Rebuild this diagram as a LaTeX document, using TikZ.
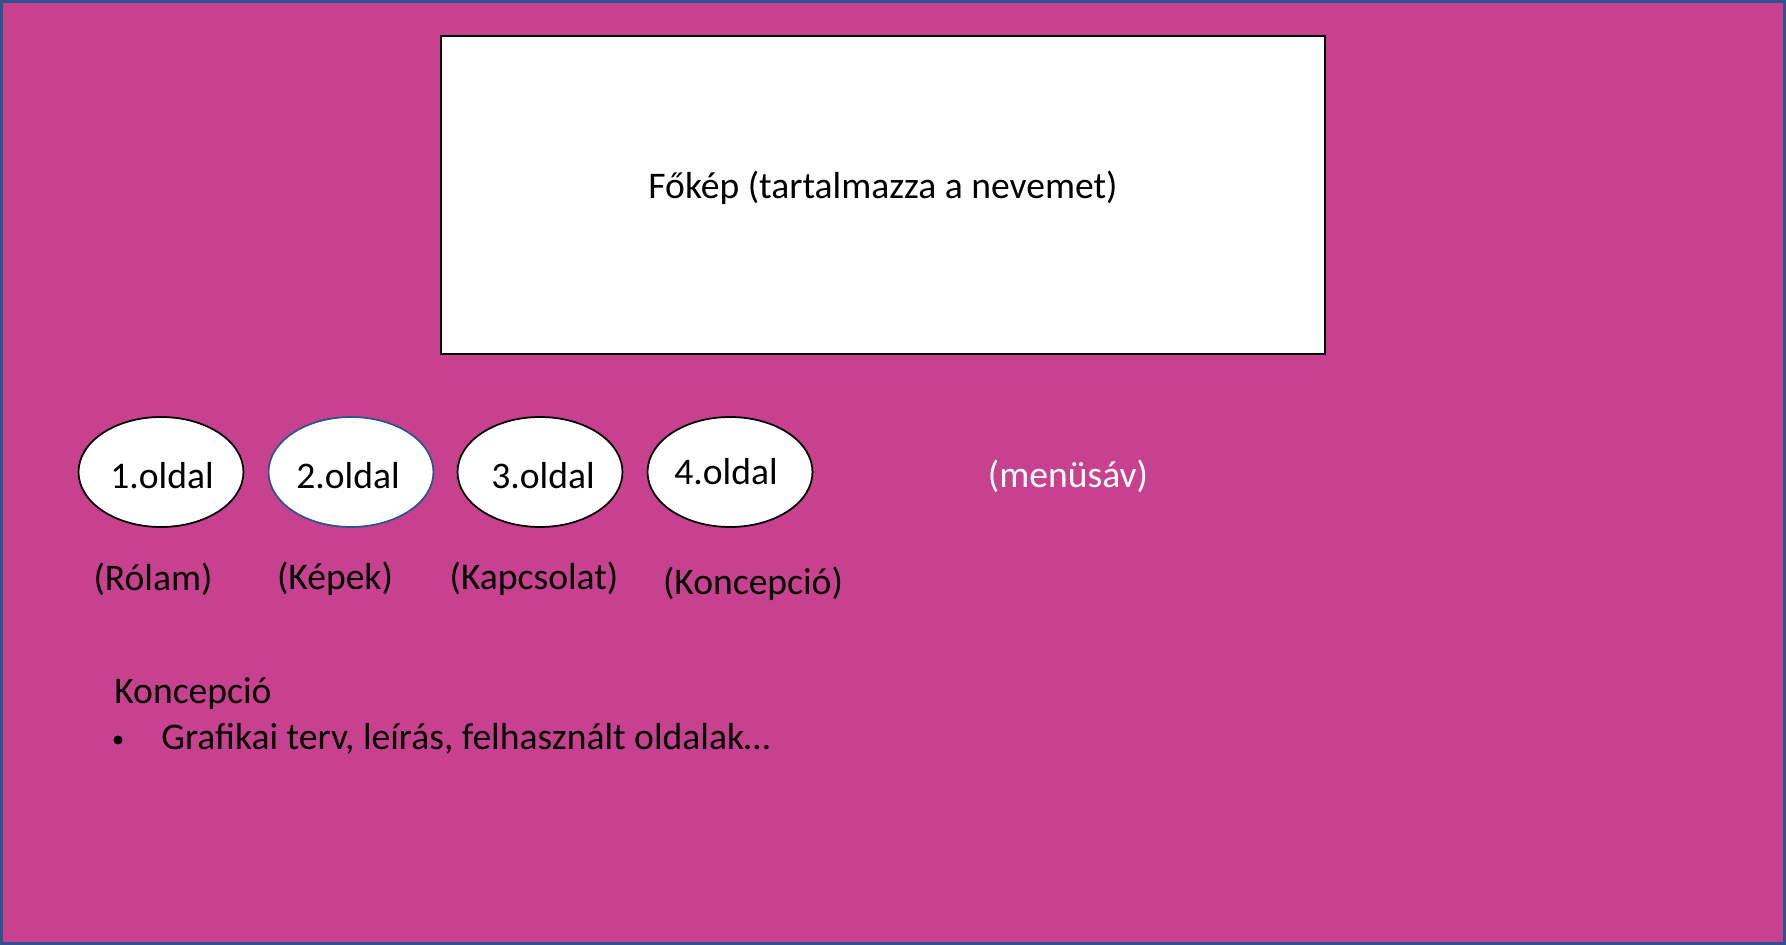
\documentclass[tikz,border=0pt]{standalone}
\usepackage{fontspec}
\setmainfont{Carlito}
\usetikzlibrary{shapes.geometric}

\definecolor{slidepink}{RGB}{200,65,143}
\definecolor{slideblue}{RGB}{47,82,143}

\tikzset{
    pagebox/.style = {fill=slidepink, draw=slideblue, line width=2pt},
    headerbox/.style = {draw=black, fill=white, line width=1pt},
    pagebutton/.style = {ellipse, draw=black, fill=white, line width=1pt,
        minimum width=3.3cm, minimum height=2.2cm, inner sep=0pt},
    biglabel/.style = {font=\fontsize{21.4}{26}\selectfont, inner sep=0pt}
}

\begin{document}
\begin{tikzpicture}[x=0.02cm, y=-0.02cm]
    % slide background
    \useasboundingbox (0,0) rectangle (1786,945);
    \draw[pagebox] (1,1) rectangle (1785,944);

    % header picture
    \draw[headerbox] (441,36) rectangle (1325,354);
    \node[biglabel] (fokep) at (883,188) {Főkép (tartalmazza a nevemet)};

    % menu buttons
    \node[pagebutton] (p1) at (161,472) {};
    \node[pagebutton, draw=slideblue] (p2) at (351,472) {};
    \node[pagebutton] (p3) at (540,472) {};
    \node[pagebutton] (p4) at (730,472) {};

    \node[biglabel] (t1) at (162,476) {1.oldal};
    \node[biglabel] (t2) at (348,476) {2.oldal};
    \node[biglabel] (t3) at (543,476) {3.oldal};
    \node[biglabel] (t4) at (726,472) {4.oldal};

    % page names
    \node[biglabel] (n1) at (153,579) {(Rólam)};
    \node[biglabel] (n2) at (335,579) {(Képek)};
    \node[biglabel] (n3) at (534,579) {(Kapcsolat)};
    \node[biglabel] (n4) at (753,584) {(Koncepció)};

    \node[biglabel, text=white] (menu) at (1068,476) {(menüsáv)};

    % notes
    \node[biglabel, anchor=west] (konc) at (114,694) {Koncepció};
    \fill (118,740) circle (4.5) coordinate (bullet);
    \node[biglabel, anchor=west] (graf) at (161,739) {Grafikai terv, leírás, felhasznált oldalak…};
\end{tikzpicture}
\end{document}
